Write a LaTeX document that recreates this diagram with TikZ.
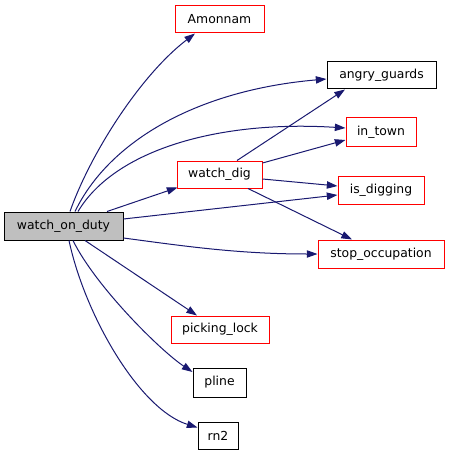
\documentclass[tikz,border=0pt]{standalone}
\usepackage{fontspec}
\setmainfont{DejaVu Sans}
\usetikzlibrary{arrows.meta}
\definecolor{edgeblue}{HTML}{191970}
\definecolor{nodered}{HTML}{FF0000}
\tikzset{
  box/.style={draw=black, line width=0.75pt, fill=white, minimum height=21pt, inner sep=0pt, font=\fontsize{9.3pt}{11pt}\selectfont},
  redbox/.style={box, draw=nodered},
  e/.style={draw=edgeblue, line width=0.75pt, -{Triangle[length=8pt,width=5.5pt]}},
}
\begin{document}
\begin{tikzpicture}[x=0.75pt, y=-0.75pt]
\useasboundingbox (0,0) rectangle (451,456);
\node[box, fill={rgb,255:red,191;green,191;blue,191}, minimum width=89.25pt] (wod) at (63.5,226) {watch\_on\_duty};
\node[redbox, minimum width=66.75pt, minimum height=20.25pt] (amon) at (219.5,19.5) {Amonnam};
\node[box, minimum width=81.75pt, minimum height=20.25pt] (angry) at (381.5,75.5) {angry\_guards};
\node[redbox, minimum width=52.5pt] (intown) at (381,132) {in\_town};
\node[redbox, minimum width=63.75pt, minimum height=20.25pt] (wdig) at (219.5,174.5) {watch\_dig};
\node[redbox, minimum width=64.5pt] (isdig) at (381,190) {is\_digging};
\node[redbox, minimum width=94.5pt] (stopocc) at (381,254) {stop\_occupation};
\node[redbox, minimum width=73.5pt, minimum height=20.25pt] (plock) at (220,329.5) {picking\_lock};
\node[box, minimum width=39.75pt, minimum height=21.75pt] (pline) at (219.5,382.5) {pline};
\node[box, minimum width=30pt, minimum height=20.25pt] (rn2) at (218,435.5) {rn2};

\draw[e] ([shift={(6.5,0)}]wod.north) .. controls +(20,-57) and +(-55,42) .. ([shift={(-24.5,0)}]amon.south);
\draw[e] ([shift={(11.5,0)}]wod.north) .. controls +(35,-72) and +(-127,11) .. ([shift={(0,3.5)}]angry.west);
\draw[e] ([shift={(14.5,0)}]wod.north) .. controls +(37,-62) and +(-126,-8) .. ([shift={(0,-4)}]intown.west);
\draw[e] ([shift={(43.5,0)}]wod.north) -- ([shift={(1,-1)}]wdig.south west);
\draw[e] ([shift={(0,-7)}]wod.east) -- ([shift={(0,5)}]isdig.west);
\draw[e] ([shift={(0,12)}]wod.east) .. controls +(60,8) and +(-80,0) .. (stopocc.west);
\draw[e] ([shift={(21.5,0)}]wod.south) -- ([shift={(-23,0)}]plock.north);
\draw[e] ([shift={(9.5,0)}]wod.south) .. controls +(22,45) and +(-33,-22) .. ([shift={(0,-10.5)}]pline.west);
\draw[e] ([shift={(5.5,0)}]wod.south) .. controls +(16,75) and +(-58,-18) .. ([shift={(0,-8)}]rn2.west);

\draw[e] ([shift={(17.5,0)}]wdig.north) -- ([shift={(-36.5,0)}]angry.south);
\draw[e] ([shift={(0,-11.5)}]wdig.east) -- ([shift={(0,8)}]intown.west);
\draw[e] ([shift={(0,4.5)}]wdig.east) -- ([shift={(0,-4)}]isdig.west);
\draw[e] ([shift={(28.5,0)}]wdig.south) -- ([shift={(-29,0)}]stopocc.north);
\end{tikzpicture}
\end{document}
